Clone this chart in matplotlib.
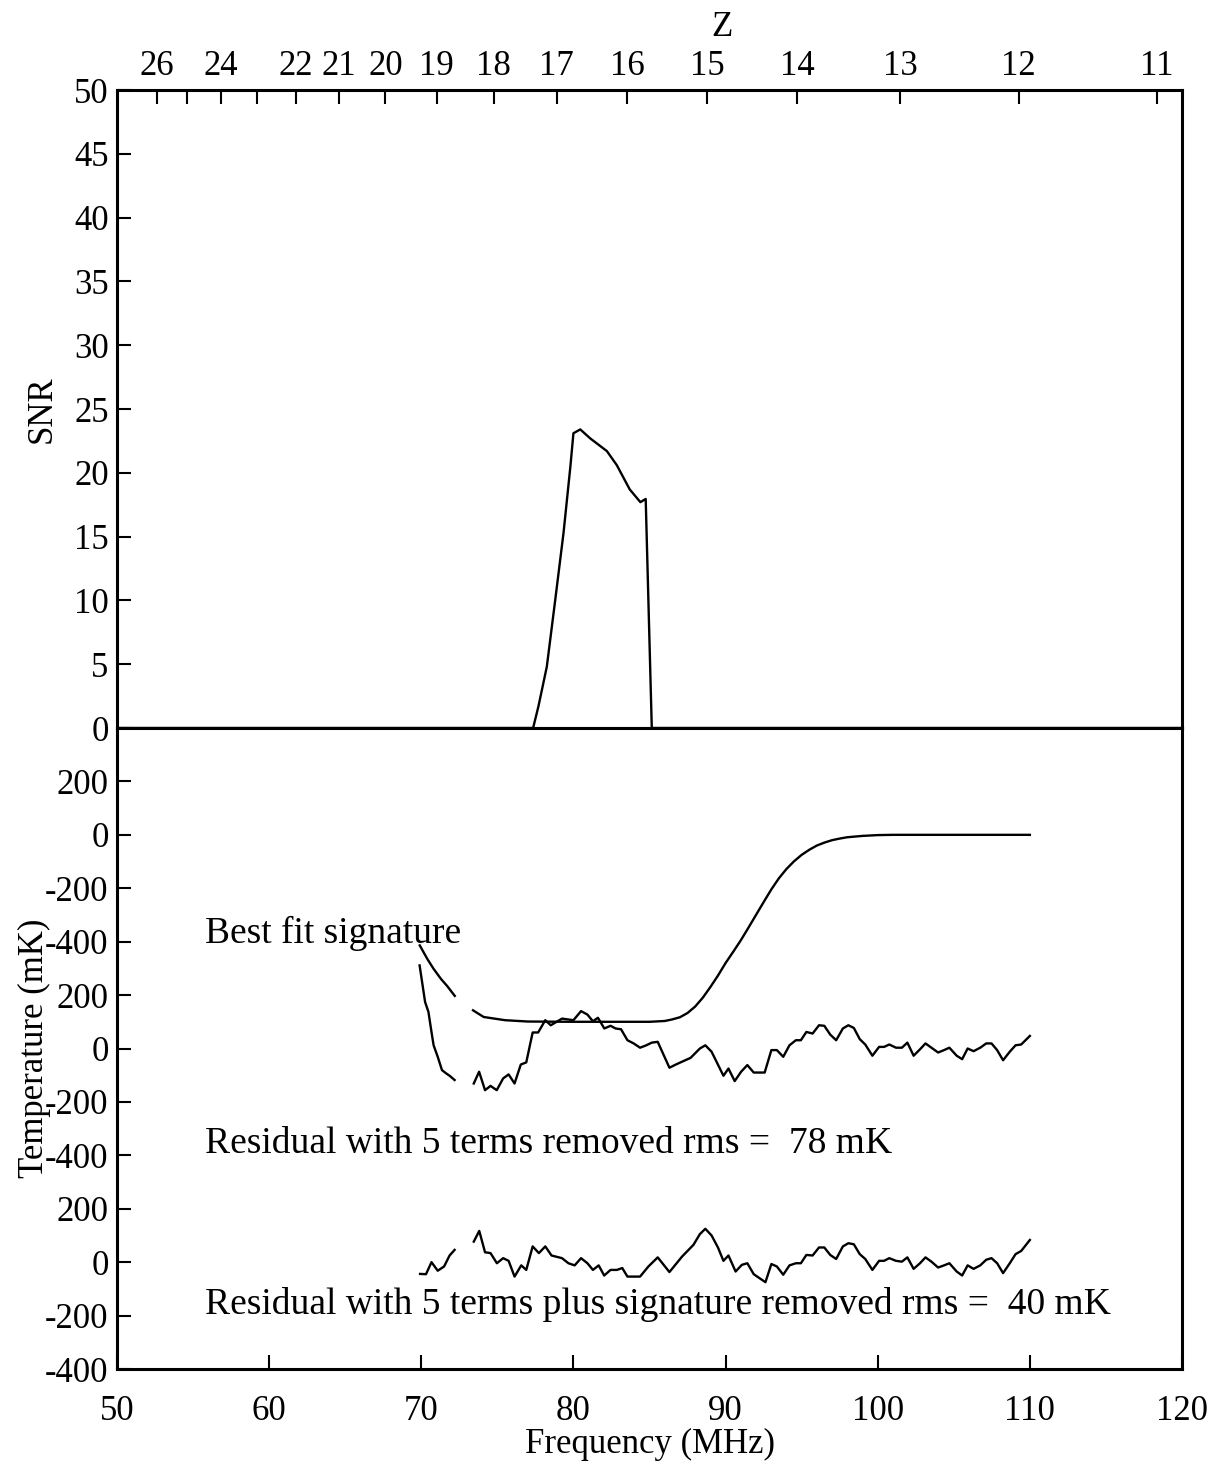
import numpy as np
import matplotlib
matplotlib.use('Agg')
import matplotlib.pyplot as plt

plt.rcParams['font.family'] = ['Liberation Serif', 'DejaVu Serif']
plt.rcParams['axes.unicode_minus'] = False

nan = np.nan

# SNR of the detection vs frequency
snr_freq = [50, 77.35, 77.7, 78.25, 78.8, 79.35, 79.8, 80.0, 80.45, 81.1, 82.2,
            82.85, 83.7, 84.4, 84.75, 85.15, 120]
snr_vals = [0, 0, 1.7, 4.8, 10.0, 15.3, 20.5, 23.1, 23.4, 22.7, 21.7,
            20.6, 18.7, 17.7, 17.95, 0, 0]

# best fit signature (mK)
sig_freq = [69.9, 70.4, 70.8, 71.3, 71.7, 72.2, 72.8, 73.4, 74.1, 75.5, 77, 80, 85,
            86, 86.5, 87, 87.5, 88, 88.5, 89, 89.5, 90, 90.5, 91, 91.5, 92, 92.5, 93,
            93.5, 94, 94.5, 95, 95.5, 96, 96.5, 97, 97.5, 98, 99, 100, 101, 110]
sig_temp = [-414, -465, -501, -540, -566, -603, nan, -657, -682, -694, -699, -700, -700,
            -697, -691, -683, -667, -643, -610, -570, -527, -480, -438, -395, -348, -300,
            -252, -205, -163, -128, -99, -75, -56, -40, -29, -20, -14, -9, -4, -1, 0, 0]

# residual with 5 terms removed (mK)
res1_freq = [69.89, 70.25, 70.47, 70.67, 70.81, 71.08, 71.36, 71.63, 71.86, 72.19, 72.8,
             73.45, 73.8, 74.19, 74.55, 74.96, 75.38, 75.74, 76.13, 76.54, 76.9, 77.32,
             77.68, 78.15, 78.51, 79.25, 80.0, 80.5, 80.92, 81.28, 81.61, 82.03, 82.44,
             82.77, 83.13, 83.55, 83.96, 84.38, 84.79, 85.15, 85.54, 86.31, 86.73, 87.7,
             88.31, 88.67, 89.08, 89.86, 90.19, 90.6, 91.02, 91.43, 91.85, 92.57, 93.01,
             93.37, 93.79, 94.2, 94.62, 94.95, 95.31, 95.72, 96.14, 96.49, 96.88, 97.27,
             97.71, 98.07, 98.43, 98.82, 99.18, 99.65, 100.09, 100.42, 100.76, 101.2,
             101.59, 101.95, 102.36, 102.78, 103.14, 103.53, 103.97, 104.36, 104.71,
             105.19, 105.55, 105.91, 106.3, 106.74, 107.13, 107.48, 107.85, 108.24,
             108.68, 109.06, 109.43, 110.0]
res1_temp = [311, 174, 137, 62, 12, -31, -81, -93, -102, -118, nan,
             -131, -87, -156, -140, -156, -112, -97, -131, -60, -52, 60,
             60, 106, 87, 112, 106, 140, 127, 102, 115, 75, 85,
             75, 72, 31, 19, 3, 12, 22, 25, -72, -60, -35,
             0, 12, -12, -102, -75, -122, -87, -62, -90, -90, -6,
             -6, -31, 12, 31, 31, 62, 56, 87, 85, 52, 31,
             75, 87, 77, 35, 15, -27, 6, 6, 15, 3,
             3, 22, -27, -3, 19, 3, -15, -6, 3,
             -27, -40, 0, -10, 3, 19, 19, -6, -44,
             -12, 12, 15, 47]

# residual with 5 terms plus signature removed (mK)
res2_freq = [69.92, 70.31, 70.67, 71.08, 71.5, 71.86, 72.19, 72.8,
             73.45, 73.81, 74.19, 74.55, 74.97, 75.38, 75.74, 76.13, 76.57, 76.9, 77.32,
             77.73, 78.15, 78.56, 79.25, 79.67, 80.08, 80.5, 80.92, 81.28, 81.66, 82.02,
             82.44, 82.86, 83.21, 83.55, 84.38, 84.93, 85.54, 86.31, 87.14, 87.89, 88.31,
             88.67, 89.08, 89.5, 89.86, 90.19, 90.66, 91.07, 91.43, 91.85, 92.62, 93.01,
             93.37, 93.79, 94.2, 94.62, 94.95, 95.31, 95.72, 96.14, 96.49, 96.88, 97.27,
             97.71, 98.07, 98.43, 98.82, 99.18, 99.65, 100.09, 100.42, 100.76, 101.2,
             101.59, 101.95, 102.36, 102.78, 103.14, 103.53, 103.97, 104.36, 104.71,
             105.19, 105.55, 105.91, 106.3, 106.74, 107.13, 107.48, 107.85, 108.24,
             108.68, 109.06, 109.43, 110.0]
res2_temp = [-44, -45, 0, -32, -16, 25, 46, nan,
             77, 117, 37, 34, -4, 15, 5, -54, -12, -29, 59,
             34, 59, 25, 15, -4, -12, 15, -4, -29, -12, -50,
             -29, -29, -22, -54, -54, -16, 18, -37, 21, 65, 105,
             125, 100, 55, 5, 25, -35, -10, -4, -45, -75, -7,
             -16, -47, -12, -4, -4, 27, 25, 55, 55, 27, 12,
             59, 71, 67, 30, 12, -29, 5, 5, 15, 5,
             2, 18, -25, -4, 18, 2, -20, -12, -4,
             -35, -50, -12, -25, -12, 9, 15, -4, -41,
             -4, 30, 42, 83]

z_ticks = [26, 25, 24, 23, 22, 21, 20, 19, 18, 17, 16, 15, 14, 13, 12, 11]
z_labels = ['26', '', '24', '', '22', '21', '20', '19', '18', '17', '16', '15',
            '14', '13', '12', '11']

temp_ticks = [200, 0, -200, -400, -600, -800, -1000, -1200, -1400, -1600, -1800, -2000]
temp_labels = ['200', '0', '-200', '-400'] * 3

fs = 25
fs_text = 27
spine_w = 2.2
line_w = 1.7

fig = plt.figure(figsize=(12.14, 14.73), dpi=100)
ax1 = fig.add_axes([0.09638, 0.50577, 0.87726, 0.43313])
ax2 = fig.add_axes([0.09638, 0.07060, 0.87726, 0.43517])

# top panel: SNR
ax1.plot(snr_freq, snr_vals, color='black', lw=line_w)
ax1.set_xlim(50, 120)
ax1.set_ylim(0, 50)
ax1.set_yticks(range(0, 51, 5))
ax1.tick_params(axis='y', direction='in', length=10, width=1.5, labelsize=fs, pad=6,
                right=False)
# redshift ticks along the top
nu21 = 1420.4
ax1.set_xticks([nu21 / (1 + z) for z in z_ticks], z_labels)
ax1.tick_params(axis='x', direction='in', length=10, width=1.5, labelsize=fs, pad=5,
                top=True, bottom=False, labeltop=True, labelbottom=False)
ax1.xaxis.set_label_position('top')
ax1.set_xlabel('Z', fontsize=fs)
ax1.xaxis.set_label_coords(0.568, 1.085)
ax1.set_ylabel('SNR', fontsize=fs)
ax1.yaxis.set_label_coords(-0.055, 0.5)

# bottom panel: stacked temperature curves
ax2.plot(sig_freq, sig_temp, color='black', lw=line_w)
ax2.plot(res1_freq, np.array(res1_temp) - 800, color='black', lw=line_w)
ax2.plot(res2_freq, np.array(res2_temp) - 1600, color='black', lw=line_w)
ax2.set_xlim(50, 120)
ax2.set_ylim(-2000, 400)
ax2.set_yticks(temp_ticks, temp_labels)
ax2.set_xticks(range(50, 121, 10))
ax2.tick_params(axis='both', direction='in', length=10, width=1.5, labelsize=fs)
ax2.tick_params(axis='x', pad=19)
ax2.tick_params(axis='y', pad=6)
ax2.set_xlabel('Frequency (MHz)', fontsize=fs, labelpad=0)
ax2.set_ylabel('Temperature (mK)', fontsize=fs)
ax2.yaxis.set_label_coords(-0.062, 0.5)

ax2.text(55.8, -404, 'Best fit signature', fontsize=fs_text, va='baseline')
ax2.text(55.8, -1193, 'Residual with 5 terms removed rms =  78 mK', fontsize=fs_text,
         va='baseline')
ax2.text(55.8, -1794, 'Residual with 5 terms plus signature removed rms =  40 mK',
         fontsize=fs_text, va='baseline')

for ax in (ax1, ax2):
    for sp in ax.spines.values():
        sp.set_linewidth(spine_w)

fig.savefig('out.png', dpi=100)
